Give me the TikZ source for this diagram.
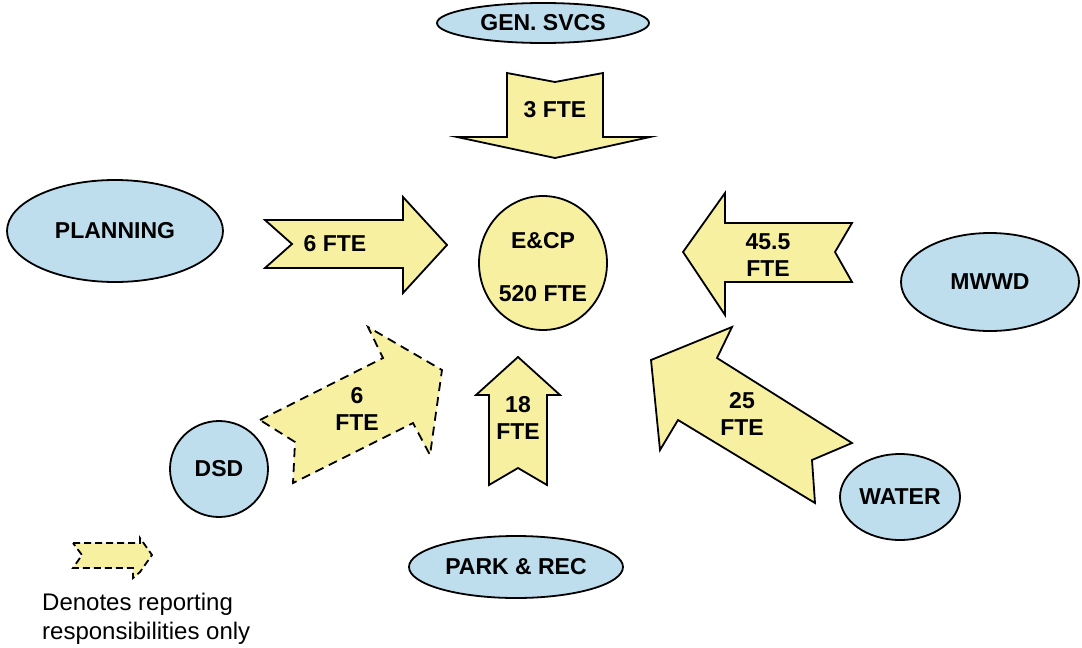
\documentclass[tikz,border=0pt]{standalone}
\usepackage{fontspec}
\setmainfont{Liberation Sans}
\usetikzlibrary{shapes.geometric}
\definecolor{fteyellow}{RGB}{246,240,160}
\definecolor{deptblue}{RGB}{190,222,238}
\tikzset{
  dept/.style={ellipse, draw=black, line width=1.8pt, fill=deptblue, inner sep=0pt,
    font=\fontsize{23}{27}\selectfont\bfseries},
  center/.style={ellipse, draw=black, line width=1.8pt, fill=fteyellow, inner sep=0pt},
  fteshape/.style={draw=black, line width=1.8pt, fill=fteyellow, line join=miter},
  ftedashed/.style={draw=black, line width=1.8pt, fill=fteyellow, dash pattern=on 9pt off 6pt},
  ftelabel/.style={align=center, font=\fontsize{23}{27}\selectfont\bfseries, inner sep=0pt},
  legendtext/.style={align=left, font=\fontsize{24}{29}\selectfont, inner sep=0pt, anchor=north west}
}
\begin{document}
\begin{tikzpicture}[x=1pt,y=-1pt]
\useasboundingbox (0,0) rectangle (1082,648);
\fill[white] (0,0) rectangle (1082,648);

% departments
\node[dept, minimum width=212pt, minimum height=40pt] (gen) at (543,23) {GEN. SVCS};
\node[dept, minimum width=216pt, minimum height=102pt] (plan) at (115,231) {PLANNING};
\node[dept, minimum width=178pt, minimum height=98pt] (mwwd) at (990,282) {MWWD};
\node[dept, minimum width=98pt, minimum height=96pt] (dsd) at (219,469) {DSD};
\node[dept, minimum width=120pt, minimum height=86pt] (water) at (900,497) {WATER};
\node[dept, minimum width=214pt, minimum height=62pt] (park) at (516,567) {PARK \& REC};

% centre
\node[center, minimum width=128pt, minimum height=134pt] (ecp) at (543,263) {};
\node[ftelabel] (ecpname) at (543,241) {E\&CP};
\node[ftelabel] (ecpfte) at (543,294) {520 FTE};

% 3 FTE (down)
\draw[fteshape] (507,73) -- (555,82) -- (603,73) -- (603,137) -- (650,137) -- (555,158)
  -- (457,137) -- (507,137) -- cycle;
\node[ftelabel] (a3) at (555,110) {3 FTE};

% 6 FTE (right)
\draw[fteshape] (265,220) -- (403,220) -- (403,197) -- (447,245) -- (403,293) -- (403,268)
  -- (265,268) -- (292,244) -- cycle;
\node[ftelabel] (a6) at (335,244) {6 FTE};

% 45.5 FTE (left)
\draw[fteshape] (683,252) -- (725,193) -- (725,223) -- (852,223) -- (835,252) -- (852,282)
  -- (725,282) -- (725,315) -- cycle;
\node[ftelabel] (a45) at (768,255) {45.5\\FTE};

% 18 FTE (up)
\draw[fteshape] (518,357) -- (560,395) -- (547,395) -- (547,485) -- (518,468) -- (489,485)
  -- (489,395) -- (476,395) -- cycle;
\node[ftelabel] (a18) at (518,418) {18\\FTE};

% 25 FTE (diagonal)
\draw[fteshape] (651,360) -- (732,327) -- (717,358) -- (852,443) -- (812,460) -- (815,503)
  -- (678,420) -- (660,450) -- cycle;
\node[ftelabel] (a25) at (742,414) {25\\FTE};

% 6 FTE dashed (DSD)
\draw[ftedashed] (260,420) -- (383,358) -- (368,327) -- (442,370) -- (430,455) -- (413,423)
  -- (293,483) -- (295,442) -- cycle;
\node[ftelabel] (a6d) at (357,409) {6\\FTE};

% legend
\draw[ftedashed, dash pattern=on 7pt off 4pt] (73,543) -- (140,543) -- (140,538) -- (152,555)
  -- (140,572) -- (133,578) -- (133,568) -- (73,568) -- (82,555) -- cycle;
\node[legendtext] (legend) at (42,593) {Denotes reporting\\responsibilities only};
\end{tikzpicture}
\end{document}
